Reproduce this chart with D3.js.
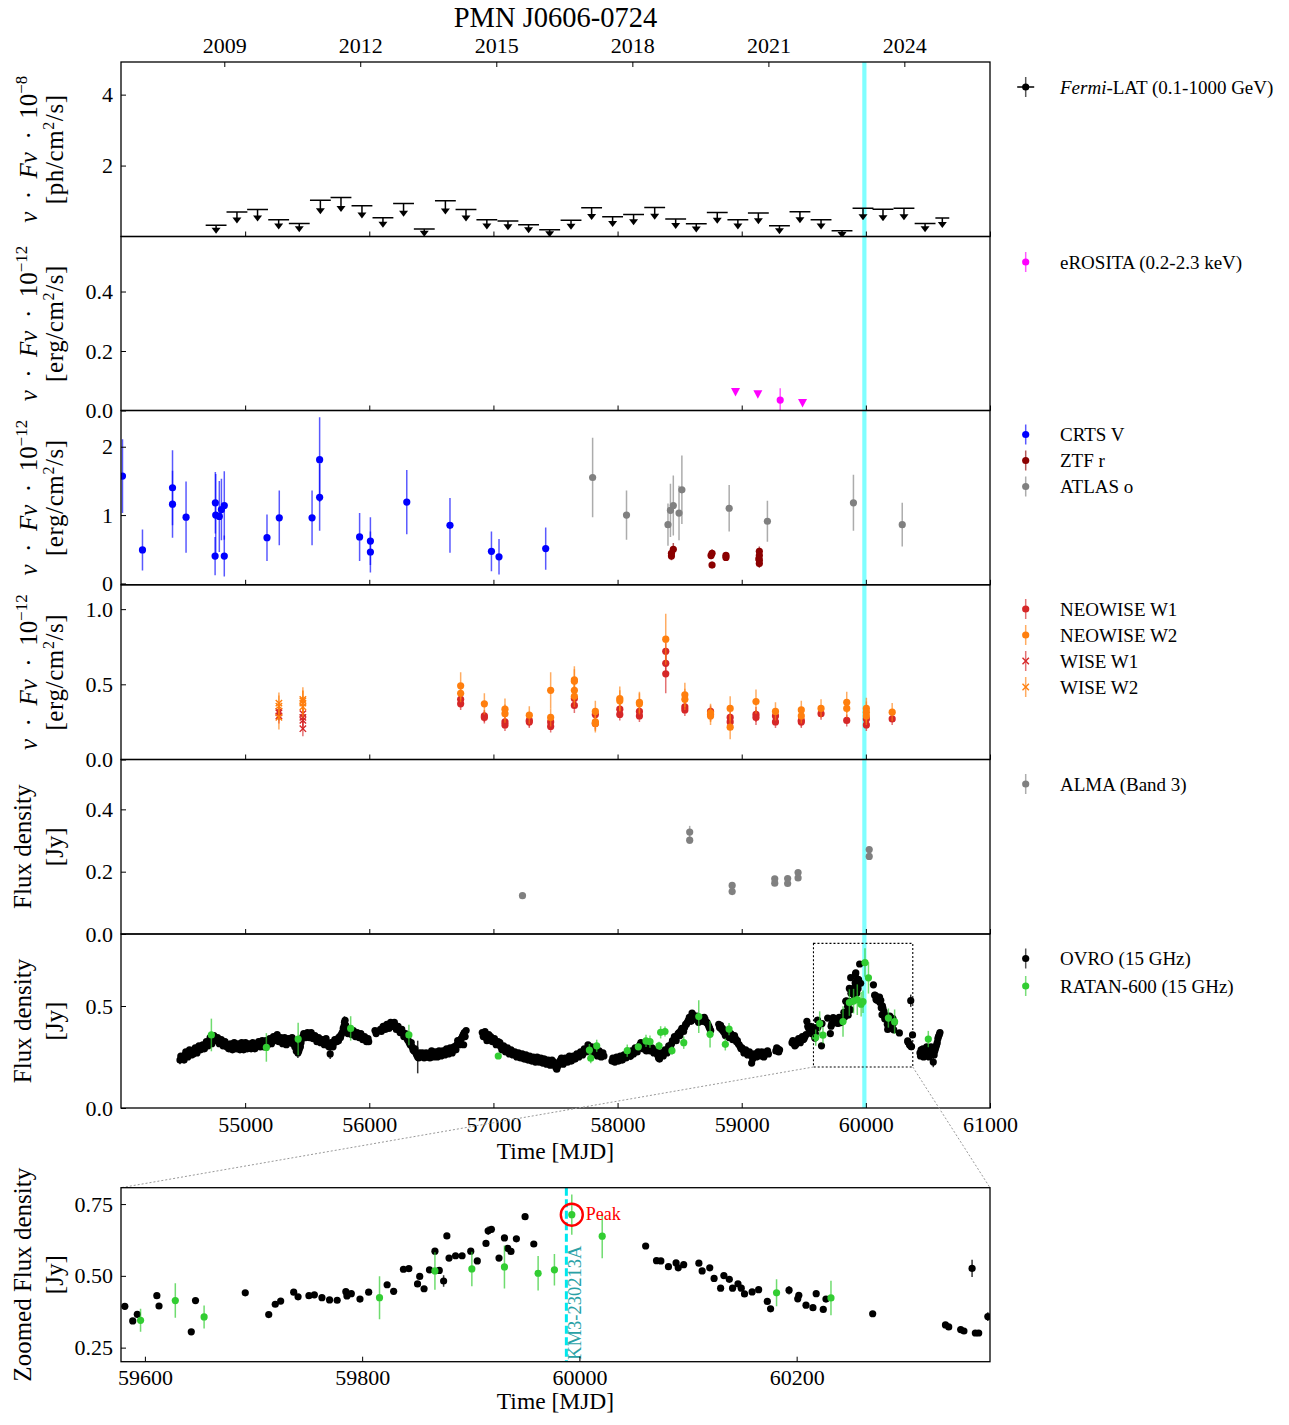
<!DOCTYPE html>
<html><head><meta charset="utf-8">
<script src="https://cdn.jsdelivr.net/npm/d3@7"></script>
<style>body{margin:0;background:#fff}</style>
</head><body>
<svg id="c" width="1289" height="1425" font-family="Liberation Serif, serif"></svg>
<script>
// ================= DATA =================
const title = "PMN J0606-0724";
const yearTicks = [2009, 2012, 2015, 2018, 2021, 2024];
const mjdTicks = [55000, 56000, 57000, 58000, 59000, 60000, 61000];
const zoomTicks = [59600, 59800, 60000, 60200];
const KM3_MJD = 59988;
const KM3_LABEL = "KM3-230213A";
const PEAK = [59993, 0.713];

// Fermi-LAT upper limits: [MJD, UL, half bin width (days)]
const fermiUL = [[54766,0.32,84],[54934,0.69,84],[55100,0.76,84],[55270,0.47,84],[55436,0.37,84],[55606,1.02,84],[55772,1.10,84],[55941,0.87,84],[56110,0.53,84],[56276,0.93,84],[56443,0.21,84],[56613,1.01,84],[56779,0.76,84],[56947,0.47,84],[57117,0.44,84],[57283,0.33,84],[57453,0.19,84],[57625,0.46,84],[57791,0.81,84],[57960,0.56,84],[58129,0.62,84],[58299,0.82,84],[58468,0.49,84],[58634,0.36,84],[58803,0.68,84],[58969,0.47,84],[59134,0.66,84],[59304,0.30,84],[59469,0.70,84],[59639,0.47,84],[59808,0.16,84],[59977,0.80,84],[60138,0.77,84],[60307,0.80,84],[60477,0.37,84],[60616,0.52,56]];

// eROSITA
const erositaUL = [[58950,0.062],[59130,0.055],[59490,0.025]];
const erositaDet = [[59310,0.035,[0.035,0.04]]];

// Optical [MJD, value, err]
const crtsV = [[54012,1.57,0.54],[54173,0.49,0.30],[54415,1.40,0.55],[54415,1.16,0.49],[54524,0.97,0.52],[54760,1.18,0.45],[54763,1.00,0.60],[54758,0.40,0.28],[54792,0.98,0.52],[54809,1.08,0.45],[54832,1.14,0.50],[54832,0.40,0.30],[55176,0.67,0.34],[55275,0.96,0.40],[55539,0.96,0.40],[55600,1.81,0.62],[55600,1.26,0.49],[55922,0.68,0.35],[56009,0.62,0.35],[56009,0.46,0.30],[56302,1.19,0.47],[56650,0.85,0.40],[56984,0.47,0.29],[57045,0.39,0.26],[57421,0.51,0.31]];
const ztfR = [[58434,0.40,0.06],[58434,0.44,0.06],[58449,0.50,0.09],[58753,0.41,0.06],[58761,0.44,0.06],[58761,0.27,0.05],[58873,0.38,0.05],[58873,0.41,0.05],[59142,0.47,0.07],[59142,0.41,0.06],[59142,0.34,0.06],[59142,0.29,0.06],[59138,0.36,0.06]];
const atlasO = [[57799,1.55,0.58],[58072,1.00,0.36],[58406,0.86,0.31],[58426,1.07,0.39],[58449,1.14,0.44],[58495,1.03,0.40],[58518,1.37,0.50],[58899,1.10,0.34],[59207,0.91,0.30],[59900,1.18,0.41],[60293,0.86,0.32]];

// Infrared
const neowiseW1 = [[56736,0.40,0.04],[56736,0.37,0.04],[56927,0.29,0.04],[56927,0.28,0.04],[57093,0.25,0.04],[57093,0.23,0.04],[57289,0.26,0.04],[57289,0.25,0.04],[57461,0.25,0.04],[57461,0.22,0.04],[57652,0.405,0.05],[57652,0.36,0.05],[57821,0.30,0.04],[57821,0.24,0.04],[58018,0.335,0.04],[58018,0.30,0.04],[58176,0.32,0.04],[58176,0.29,0.04],[58388,0.72,0.06],[58388,0.64,0.07],[58388,0.57,0.13],[58542,0.35,0.04],[58542,0.33,0.04],[58749,0.32,0.04],[58749,0.30,0.04],[58907,0.28,0.04],[58907,0.25,0.04],[59115,0.30,0.05],[59115,0.28,0.05],[59272,0.29,0.04],[59272,0.25,0.04],[59480,0.26,0.04],[59480,0.25,0.04],[59639,0.305,0.04],[59846,0.26,0.04],[60004,0.27,0.04],[60004,0.23,0.04],[60212,0.27,0.04]];
const neowiseW2 = [[56736,0.49,0.09],[56736,0.44,0.06],[56927,0.37,0.07],[57093,0.335,0.07],[57093,0.305,0.06],[57289,0.295,0.06],[57461,0.46,0.12],[57461,0.28,0.06],[57652,0.53,0.09],[57652,0.52,0.08],[57652,0.46,0.08],[57652,0.42,0.07],[57821,0.32,0.07],[57821,0.25,0.06],[57821,0.24,0.06],[58018,0.405,0.08],[58018,0.39,0.07],[58176,0.38,0.07],[58176,0.37,0.07],[58388,0.80,0.17],[58542,0.43,0.08],[58542,0.40,0.07],[58749,0.31,0.06],[58749,0.29,0.06],[58907,0.34,0.08],[58907,0.215,0.08],[59115,0.385,0.08],[59272,0.32,0.06],[59480,0.33,0.06],[59480,0.29,0.05],[59639,0.34,0.06],[59846,0.38,0.07],[59846,0.34,0.06],[60004,0.34,0.07],[60004,0.315,0.07],[60004,0.29,0.06],[60212,0.315,0.06]];
const wiseW1 = [[55272,0.32,0.05],[55272,0.31,0.05],[55272,0.29,0.05],[55465,0.305,0.06],[55465,0.28,0.06],[55465,0.26,0.06],[55465,0.205,0.05]];
const wiseW2 = [[55272,0.375,0.07],[55272,0.355,0.07],[55272,0.28,0.08],[55465,0.40,0.08],[55465,0.39,0.07],[55465,0.375,0.08],[55465,0.35,0.07]];

// ALMA Band 3 [MJD, Jy, err]
const alma = [[57234,0.123,0.006],[58581,0.327,0.02],[58581,0.301,0.012],[58923,0.156,0.008],[58923,0.136,0.008],[59266,0.177,0.008],[59266,0.163,0.008],[59370,0.178,0.008],[59370,0.162,0.008],[59454,0.197,0.008],[59454,0.180,0.008],[60027,0.271,0.01],[60027,0.249,0.01]];

// OVRO 15 GHz [MJD, Jy, (err)]
const OVRO_ERR = 0.008;
const ovro = [[54475,0.235,0.02],[54485,0.25],[54500,0.245],[54515,0.26,0.02],[54530,0.265],[54545,0.27],[54560,0.265],[54575,0.28],[54590,0.275],[54605,0.285],[54620,0.29],[54635,0.30],[54650,0.295],[54665,0.305],[54680,0.31],[54695,0.32],[54710,0.325],[54725,0.33],[54740,0.34],[54755,0.345],[54770,0.335],[54785,0.33],[54800,0.32],[54815,0.325],[54830,0.31],[54845,0.315],[54860,0.30],[54875,0.31],[54890,0.295],[54905,0.305],[54920,0.31],[54935,0.30],[54950,0.29],[54965,0.31],[54980,0.30],[54995,0.295],
[55010,0.31],[55025,0.30],[55040,0.305],[55055,0.295],[55070,0.31],[55085,0.30],[55100,0.315],[55115,0.305],[55130,0.32],[55145,0.31],[55160,0.315],[55175,0.32],[55190,0.33],[55205,0.325],[55220,0.335],[55235,0.345],[55250,0.35],[55265,0.34],[55280,0.33],[55295,0.34],[55310,0.325],[55325,0.335],[55340,0.32],[55355,0.33],[55370,0.335],[55385,0.315],[55400,0.30],[55412,0.28],[55425,0.27,0.025],[55437,0.29],[55450,0.32],
[55465,0.35],[55480,0.355],[55495,0.36],[55510,0.35],[55525,0.36],[55540,0.355],[55555,0.345],[55570,0.34],[55585,0.33],[55600,0.335],[55615,0.325],[55630,0.32],[55645,0.33],[55660,0.31],[55675,0.30],[55685,0.265,0.025],[55700,0.31],[55715,0.32],[55730,0.33],[55745,0.34],[55760,0.35],[55775,0.36],[55790,0.39],[55800,0.42,0.03],[55810,0.405],[55820,0.385],
[55835,0.37],[55850,0.375],[55865,0.365],[55880,0.37],[55895,0.36],[55910,0.355],[55925,0.36],[55940,0.35],[55955,0.345],[55970,0.34],[55985,0.33],[55995,0.325],[56046,0.38],
[56090,0.385],[56105,0.39],[56120,0.395],[56135,0.40],[56150,0.395],[56165,0.405],[56180,0.41],[56195,0.415],[56210,0.40],[56225,0.395],[56240,0.385],[56255,0.38],[56270,0.37],[56285,0.36],[56300,0.345],[56315,0.33],[56330,0.31],[56345,0.30],
[56360,0.28],[56375,0.27],[56390,0.25,0.08],[56405,0.27],[56420,0.26],[56435,0.255],[56450,0.265],[56465,0.25],[56480,0.26],[56495,0.27],[56510,0.265],[56525,0.255],[56540,0.27],[56555,0.26],[56570,0.275],[56585,0.265],[56600,0.27],[56615,0.28],[56630,0.27],[56645,0.285],[56660,0.28],[56675,0.29],[56690,0.30],[56705,0.31],[56720,0.32],[56735,0.335],[56750,0.35],[56760,0.31],[56765,0.37],[56780,0.38],
[56910,0.37],[56925,0.36],[56940,0.345],[56955,0.35],[56970,0.335],[56985,0.34],[57000,0.33],[57015,0.325],[57030,0.32],[57045,0.31],[57060,0.30],[57075,0.29],[57090,0.295],[57105,0.28],[57120,0.285],[57135,0.27],[57150,0.275],[57165,0.265],[57180,0.26],[57195,0.265],[57210,0.255],[57225,0.26],[57240,0.25],[57255,0.255],[57270,0.245],[57285,0.25],[57300,0.24],[57315,0.245],[57330,0.235],[57345,0.24],[57360,0.245],[57375,0.235],[57390,0.23],[57405,0.24],[57420,0.225],[57435,0.23],[57450,0.22],[57465,0.225],[57480,0.215],[57495,0.21],[57510,0.19],[57525,0.215],[57540,0.235],[57555,0.23],[57570,0.225],
[57590,0.235],[57605,0.24],[57620,0.245],[57635,0.24],[57650,0.25],[57665,0.255],[57680,0.26],[57695,0.265],[57710,0.27],[57725,0.275],[57740,0.285],[57755,0.29],[57770,0.30],[57785,0.29],[57800,0.28],[57815,0.27],[57830,0.265],[57845,0.275],[57860,0.265],[57875,0.26],[57890,0.255],
[57955,0.23],[57970,0.235],[57985,0.24],[58000,0.235],[58015,0.245],[58030,0.24],[58045,0.25],[58060,0.255],[58075,0.26],[58090,0.265],[58105,0.255,0.02],[58120,0.27],[58135,0.28],[58150,0.285],[58165,0.295],[58180,0.31],[58195,0.30],[58210,0.295],[58225,0.29],[58240,0.30],[58255,0.29],[58270,0.285],[58285,0.28],[58300,0.275],[58315,0.27],[58330,0.245],[58345,0.255],[58360,0.265],[58375,0.27],[58390,0.28],[58405,0.29],[58420,0.30],[58435,0.315],
[58450,0.33],[58465,0.34],[58480,0.355],[58495,0.37],[58510,0.38],[58525,0.39],[58540,0.395],[58555,0.41],[58570,0.43],[58585,0.44],[58600,0.465],[58615,0.45],[58630,0.44],[58645,0.43],[58660,0.425],[58675,0.43],[58690,0.44],[58705,0.435],[58720,0.42],[58735,0.40],[58750,0.38],
[58815,0.41],[58830,0.405],[58845,0.39],[58860,0.37],[58875,0.365],[58890,0.36],[58905,0.355],[58920,0.35],[58935,0.345],[58950,0.34],[58965,0.33],[58980,0.31],[58995,0.29],
[59010,0.285],[59025,0.28],[59040,0.27],[59055,0.265],[59070,0.26],[59080,0.22],[59095,0.25],[59110,0.26],[59125,0.265],[59140,0.27],[59155,0.26],[59170,0.265],[59185,0.27],[59200,0.275],[59215,0.265],[59275,0.28],[59290,0.29],[59305,0.285],
[59405,0.32],[59420,0.315],[59435,0.31],[59450,0.325],[59465,0.33],[59480,0.34],[59495,0.335],[59510,0.35],[59525,0.425],[59540,0.39],[59555,0.40],[59570,0.38],
[59581.5,0.394],[59588.8,0.343],[59593,0.366],[59611,0.431],[59613,0.395],[59642.7,0.305],[59646.6,0.414],[59692.4,0.441],[59714,0.365],[59720,0.401],[59725,0.412],[59737,0.443],[59741,0.427],[59751,0.431],[59756,0.434],[59763,0.424],[59770,0.416],[59777,0.415],[59785,0.445],[59786,0.43],[59790,0.438],[59798,0.419],[59806,0.443],[59823,0.469],[59829,0.446],[59838,0.523],[59843,0.525],[59851,0.472],[59853,0.498],[59857,0.455],[59862,0.521],[59867,0.586],[59871,0.519],[59875,0.482,0.02],[59878,0.639],[59880,0.562],[59886,0.57],[59892,0.57],[59900,0.586],[59906,0.552],[59914,0.613],[59916,0.657,0.015],[59919,0.662],[59926,0.562],[59931,0.632],[59934,0.596],[59937,0.585],[59942,0.629],[59950,0.706],[59958,0.611],
[60061,0.604],[60071,0.553],[60075,0.552],[60082,0.532],[60089,0.545],[60091,0.528],[60096,0.539],[60110,0.544],[60113,0.517],[60120,0.528],[60124,0.491],[60130,0.457],[60133,0.501],[60138,0.488],[60141,0.457],[60146,0.472],[60149,0.457],[60152,0.437],[60159,0.444],[60165,0.452],[60173,0.411],[60176,0.385],[60193,0.45,0.015],[60201,0.42],[60202,0.432],[60208.6,0.398],[60215,0.389],[60218,0.438],[60224.5,0.383],[60227,0.419],[60270,0.368],[60337,0.329],[60340,0.322],[60351,0.313],[60354,0.308],[60361.5,0.526,0.03],[60364.5,0.301],[60367.6,0.301],[60376,0.358,0.015],
[60436,0.27],[60445,0.285],[60455,0.265],[60465,0.25],[60475,0.28],[60485,0.29],[60495,0.27],[60505,0.26],[60515,0.28],[60525,0.30],[60535,0.27],[60543,0.225,0.025],[60555,0.28],[60565,0.30],[60575,0.32],[60585,0.35],[60597,0.37],
// intermediate OVRO epochs (band scatter)
[54482,0.255],[54508,0.235],[54522,0.275],[54538,0.25],[54552,0.285],[54568,0.26],[54582,0.265],[54598,0.295],[54612,0.27],[54628,0.305],[54642,0.285],[54658,0.31],[54672,0.29],[54688,0.325],[54702,0.305],[54718,0.345],[54732,0.315],[54748,0.355],[54762,0.33],[54778,0.345],[54792,0.315],[54808,0.335],[54822,0.305],[54838,0.325],[54852,0.30],[54868,0.29],[54882,0.315],[54898,0.285],[54912,0.32],[54928,0.29],[54942,0.315],[54958,0.285],[54972,0.32],[54988,0.285],
[55003,0.32],[55018,0.29],[55032,0.315],[55048,0.29],[55062,0.32],[55078,0.29],[55092,0.305],[55108,0.325],[55122,0.30],[55138,0.33],[55152,0.30],[55168,0.33],[55182,0.31],[55198,0.34],[55212,0.315],[55228,0.35],[55242,0.33],[55258,0.36],[55272,0.325],[55288,0.345],[55302,0.315],[55318,0.345],[55332,0.31],[55348,0.34],[55362,0.32],[55378,0.345],[55392,0.32],[55418,0.30],[55432,0.28],[55445,0.30],[55458,0.34],
[55472,0.365],[55488,0.345],[55502,0.37],[55518,0.345],[55532,0.37],[55548,0.34],[55562,0.355],[55578,0.325],[55592,0.345],[55608,0.32],[55622,0.335],[55638,0.31],[55652,0.34],[55668,0.315],[55692,0.32],[55708,0.30],[55722,0.335],[55738,0.325],[55752,0.33],[55768,0.345],[55782,0.37],[55796,0.40],[55805,0.43],[55815,0.39],[55828,0.365],[55842,0.385],[55858,0.36],[55872,0.38],[55888,0.35],[55902,0.37],[55918,0.345],[55932,0.365],[55948,0.335],[55962,0.35],[55978,0.325],[55990,0.34],
[56055,0.365],[56097,0.375],[56112,0.40],[56128,0.385],[56142,0.41],[56158,0.39],[56172,0.42],[56188,0.40],[56202,0.42],[56218,0.385],[56232,0.40],[56248,0.37],[56262,0.385],[56278,0.35],[56292,0.365],[56308,0.335],[56322,0.32],[56338,0.32],[56352,0.285],
[56368,0.29],[56382,0.26],[56398,0.245],[56412,0.255],[56428,0.27],[56442,0.245],[56458,0.27],[56472,0.265],[56488,0.245],[56502,0.28],[56518,0.25],[56532,0.275],[56548,0.25],[56562,0.28],[56578,0.255],[56592,0.28],[56608,0.26],[56622,0.29],[56638,0.265],[56652,0.295],[56668,0.27],[56682,0.30],[56698,0.285],[56712,0.33],[56728,0.31],[56742,0.34],[56757,0.36],[56772,0.35],
[56918,0.35],[56932,0.375],[56948,0.33],[56962,0.36],[56978,0.35],[56992,0.325],[57008,0.34],[57022,0.31],[57038,0.325],[57052,0.32],[57068,0.285],[57082,0.305],[57098,0.275],[57112,0.295],[57128,0.265],[57142,0.285],[57158,0.26],[57172,0.275],[57188,0.25],[57202,0.27],[57218,0.245],[57232,0.265],[57248,0.24],[57262,0.26],[57278,0.235],[57292,0.255],[57308,0.23],[57322,0.25],[57338,0.225],[57352,0.25],[57368,0.225],[57382,0.245],[57398,0.22],[57412,0.24],[57428,0.215],[57442,0.235],[57458,0.21],[57472,0.235],[57488,0.225],[57502,0.20],[57518,0.205],[57532,0.225],[57548,0.245],[57562,0.215],[57578,0.245],
[57598,0.225],[57612,0.255],[57628,0.23],[57642,0.255],[57658,0.24],[57672,0.265],[57688,0.25],[57702,0.275],[57718,0.26],[57732,0.29],[57748,0.275],[57762,0.31],[57778,0.28],[57792,0.30],[57808,0.265],[57822,0.28],[57838,0.255],[57852,0.28],[57868,0.25],[57882,0.27],
[57962,0.245],[57978,0.225],[57992,0.25],[58008,0.23],[58022,0.255],[58038,0.235],[58052,0.26],[58068,0.245],[58082,0.27],[58098,0.255],[58112,0.28],[58128,0.265],[58142,0.295],[58158,0.275],[58172,0.30],[58188,0.32],[58202,0.29],[58218,0.305],[58232,0.28],[58248,0.31],[58262,0.28],[58278,0.295],[58292,0.27],[58308,0.285],[58322,0.26],[58338,0.24],[58352,0.27],[58368,0.255],[58382,0.285],[58398,0.27],[58412,0.305],[58428,0.29],[58442,0.33],
[58458,0.35],[58472,0.33],[58488,0.365],[58502,0.355],[58518,0.39],[58532,0.375],[58548,0.41],[58562,0.42],[58578,0.445],[58592,0.425],[58608,0.455],[58622,0.435],[58638,0.45],[58652,0.42],[58668,0.44],[58682,0.425],[58698,0.445],[58712,0.42],[58728,0.41],[58742,0.39],
[58822,0.395],[58838,0.385],[58852,0.375],[58868,0.355],[58882,0.37],[58898,0.345],[58912,0.365],[58928,0.335],[58942,0.355],[58958,0.325],[58972,0.315],[58988,0.30],
[59002,0.295],[59018,0.27],[59032,0.285],[59048,0.26],[59062,0.275],[59088,0.24],[59102,0.265],[59118,0.25],[59132,0.275],[59148,0.255],[59162,0.275],[59178,0.25],[59192,0.265],[59208,0.28],[59282,0.295],[59298,0.275],
[59412,0.33],[59428,0.305],[59442,0.32],[59458,0.34],[59472,0.32],[59488,0.35],[59502,0.34],[59518,0.36],[59532,0.40],[59548,0.385],[59562,0.365],
[60440,0.255],[60450,0.26],[60460,0.29],[60470,0.27],[60480,0.255],[60490,0.30],[60500,0.28],[60510,0.25],[60520,0.27],[60530,0.29],[60550,0.26],[60560,0.29],[60570,0.31],[60580,0.34],[60592,0.36]];

// RATAN-600 15 GHz
const ratan = [[54728,0.358,0.08],[55171,0.297,0.07],[55427,0.338,0.08],[55850,0.39,0.06],[56319,0.358,0.05],[57039,0.255,0.015],[57773,0.284,0.03],[57784,0.244,0.025],[57832,0.305,0.03],[58078,0.281,0.03],[58167,0.30,0.015],[58229,0.329,0.03],[58261,0.325,0.03],[58334,0.305,0.02],[58347,0.371,0.03],[58382,0.375,0.025],[58438,0.281,0.02],[58533,0.32,0.03],[58654,0.448,0.08],[58745,0.361,0.065],[58868,0.312,0.03],[58898,0.387,0.03],[59596,0.345,0.04],[59628,0.414,0.06],[59654.5,0.357,0.04],[59816,0.424,0.075],[59867,0.517,0.065],[59901,0.524,0.06],[59931,0.531,0.075],[59962,0.509,0.06],[59977,0.521,0.055],[59993,0.713,0.07],[60021,0.638,0.077],[60181.5,0.441,0.047],[60231.6,0.423,0.06],[60503,0.338,0.04]];

// ================= LAYOUT =================
const svg = d3.select('#c');
const X0 = 121, X1 = 990;
const edges = [62, 236.5, 410.5, 584.8, 759.5, 934, 1108];
const ZT = 1187.7, ZB = 1361.7;
const FONT_TICK = 22, FONT_LAB = 25, FONT_LEG = 19;
const C = {crts:'#0000ff', ztf:'#8b0000', atlas:'#808080', w1:'#d62728', w2:'#ff7f0e', ero:'#ff00ff', alma:'#808080', ovro:'#000000', ratan:'#32cd32'};

const x = d3.scaleLinear().domain([54000, 61000]).range([X0, X1]);
const mjdToDate = m => new Date(Date.UTC(1858, 10, 17) + m * 864e5);
const xt = d3.scaleUtc().domain([mjdToDate(54000), mjdToDate(61000)]).range([X0, X1]);

const panels = [
  {domain:[0,4.92], ticks:[2,4], fmt:d3.format('d'), lab:'math', exp:'8', unit:'ph'},
  {domain:[0,0.585], ticks:[0,0.2,0.4], fmt:d3.format('.1f'), lab:'math', exp:'12', unit:'erg'},
  {domain:[-0.02,2.53], ticks:[0,1,2], fmt:d3.format('d'), lab:'math', exp:'12', unit:'erg'},
  {domain:[0,1.162], ticks:[0,0.5,1.0], fmt:d3.format('.1f'), lab:'math', exp:'12', unit:'erg'},
  {domain:[0,0.56], ticks:[0,0.2,0.4], fmt:d3.format('.1f'), lab:'flux'},
  {domain:[0,0.853], ticks:[0,0.5], fmt:d3.format('.1f'), lab:'flux'},
];
panels.forEach((p,i)=>{ p.top = edges[i]; p.bot = edges[i+1]; p.y = d3.scaleLinear().domain(p.domain).range([p.bot, p.top]); });

const defs = svg.append('defs');
function clip(id, x0, y0, w, h){ defs.append('clipPath').attr('id',id).append('rect').attr('x',x0).attr('y',y0).attr('width',w).attr('height',h); return `url(#${id})`; }

const eLo = (d,def)=> Array.isArray(d[2]) ? d[2][0] : (d[2] ?? def ?? 0);
const eHi = (d,def)=> Array.isArray(d[2]) ? d[2][1] : (d[2] ?? def ?? 0);

function drawSeries(g, xs, ys, data, o){
  const def = o.defErr || 0;
  g.append('g').selectAll('line').data(data).join('line')
    .attr('x1',d=>xs(d[0])).attr('x2',d=>xs(d[0]))
    .attr('y1',d=>ys(d[1]-eLo(d,def))).attr('y2',d=>ys(d[1]+eHi(d,def)))
    .attr('stroke',o.color).attr('stroke-width',o.ew||1.5).attr('stroke-opacity',o.ea ?? 0.65);
  if (o.shape==='x'){
    const s=3.2;
    g.append('g').selectAll('path').data(data).join('path')
      .attr('d',d=>{const cx=xs(d[0]), cy=ys(d[1]); return `M${cx-s},${cy-s}L${cx+s},${cy+s}M${cx-s},${cy+s}L${cx+s},${cy-s}`;})
      .attr('stroke',o.color).attr('stroke-width',1.4).attr('fill','none');
  } else if (o.shape==='v'){
    g.append('g').selectAll('path').data(data).join('path')
      .attr('d',d=>{const cx=xs(d[0]), cy=ys(d[1]); return `M${cx-4.5},${cy-4}L${cx+4.5},${cy-4}L${cx},${cy+4.5}Z`;})
      .attr('fill',o.color);
  } else {
    g.append('g').selectAll('circle').data(data).join('circle')
      .attr('cx',d=>xs(d[0])).attr('cy',d=>ys(d[1])).attr('r',o.r||3.6).attr('fill',o.color);
  }
}

function drawUL(g, xs, ys, data){
  const base = ys(0);
  data.forEach(d=>{
    const cx = xs(d[0]), cy = ys(d[1]);
    const len = 6 + 0.22*(base-cy);
    g.append('line').attr('x1',xs(d[0]-d[2])).attr('x2',xs(d[0]+d[2])).attr('y1',cy).attr('y2',cy).attr('stroke','#000').attr('stroke-width',1.5);
    g.append('line').attr('x1',cx).attr('x2',cx).attr('y1',cy).attr('y2',cy+len-5).attr('stroke','#000').attr('stroke-width',1.5);
    g.append('path').attr('d',`M${cx-4.5},${cy+len-6}L${cx+4.5},${cy+len-6}L${cx},${cy+len}Z`).attr('fill','#000');
  });
}

function styleAxis(g, size){
  g.select('.domain').remove();
  g.selectAll('.tick line').attr('stroke','#000').attr('stroke-width',1);
  g.selectAll('.tick text').attr('fill','#000').attr('font-size',size).attr('font-family','Liberation Serif, serif');
}

function yLabel(p, cx, cy){
  const l1x = p.lab==='math' ? 37 : 31, l2x = 63;
  if (p.lab==='math'){
    const t = svg.append('text').attr('transform',`translate(${l1x},${cy}) rotate(-90)`).attr('text-anchor','middle').attr('font-size',FONT_LAB);
    t.append('tspan').attr('font-style','italic').text('ν');
    t.append('tspan').text('\u2002·\u2002');
    t.append('tspan').attr('font-style','italic').text('Fν');
    t.append('tspan').text('\u2002·\u200210');
    t.append('tspan').attr('font-size',17).attr('dy',-10).text('−'+p.exp);
    const t2 = svg.append('text').attr('transform',`translate(${l2x},${cy}) rotate(-90)`).attr('text-anchor','middle').attr('font-size',FONT_LAB).attr('letter-spacing',0.6);
    t2.append('tspan').text('['+p.unit+'/cm');
    t2.append('tspan').attr('font-size',16).attr('dy',-9).text('2');
    t2.append('tspan').attr('dy',9).text('/s]');
  } else {
    svg.append('text').attr('transform',`translate(${l1x},${cy}) rotate(-90)`).attr('text-anchor','middle').attr('font-size',FONT_LAB).text(p.text || 'Flux density');
    svg.append('text').attr('transform',`translate(${l2x},${cy}) rotate(-90)`).attr('text-anchor','middle').attr('font-size',FONT_LAB).text('[Jy]');
  }
}

// ===== KM3 event band (behind data) =====
svg.append('line').attr('x1',x(KM3_MJD)).attr('x2',x(KM3_MJD)).attr('y1',edges[0]).attr('y2',edges[6])
  .attr('stroke','#00ffff').attr('stroke-opacity',0.5).attr('stroke-width',4.2);

// ===== Panels =====
panels.forEach((p,i)=>{
  const g = svg.append('g').attr('clip-path', clip('cp'+i, X0, p.top, X1-X0, p.bot-p.top));
  const y = p.y;
  if (i===0) drawUL(g, x, y, fermiUL);
  if (i===1){ drawSeries(g, x, y, erositaUL, {color:C.ero, shape:'v', ea:0}); drawSeries(g, x, y, erositaDet, {color:C.ero}); }
  if (i===2){ drawSeries(g, x, y, crtsV, {color:C.crts}); drawSeries(g, x, y, ztfR, {color:C.ztf}); drawSeries(g, x, y, atlasO, {color:C.atlas}); }
  if (i===3){ drawSeries(g, x, y, neowiseW1, {color:C.w1}); drawSeries(g, x, y, neowiseW2, {color:C.w2}); drawSeries(g, x, y, wiseW1, {color:C.w1, shape:'x'}); drawSeries(g, x, y, wiseW2, {color:C.w2, shape:'x'}); }
  if (i===4) drawSeries(g, x, y, alma, {color:C.alma});
  if (i===5){ drawSeries(g, x, y, ovro, {color:C.ovro, defErr:OVRO_ERR, ea:0.8}); drawSeries(g, x, y, ratan, {color:C.ratan, ea:0.7}); }

  svg.append('rect').attr('x',X0).attr('y',p.top).attr('width',X1-X0).attr('height',p.bot-p.top)
    .attr('fill','none').attr('stroke','#000').attr('stroke-width',1.3);
  const ya = svg.append('g').attr('transform',`translate(${X0},0)`)
    .call(d3.axisLeft(y).tickValues(p.ticks).tickFormat(p.fmt).tickSize(-5).tickPadding(8));
  styleAxis(ya, FONT_TICK);
  const xa = svg.append('g').attr('transform',`translate(0,${p.bot})`)
    .call(d3.axisBottom(x).tickValues(mjdTicks).tickSize(-5).tickPadding(8).tickFormat(i===5 ? d3.format('d') : ''));
  styleAxis(xa, FONT_TICK);
  yLabel(p, 0, (p.top+p.bot)/2);
});

const ta = svg.append('g').attr('transform',`translate(0,${edges[0]})`)
  .call(d3.axisTop(xt).tickValues(yearTicks.map(yr=>new Date(Date.UTC(yr,0,1)))).tickFormat(d3.utcFormat('%Y')).tickSize(-5).tickPadding(9));
styleAxis(ta, FONT_TICK);

svg.append('text').attr('x',(X0+X1)/2).attr('y',27).attr('text-anchor','middle').attr('font-size',28.5).text(title);
svg.append('text').attr('x',(X0+X1)/2).attr('y',1159).attr('text-anchor','middle').attr('font-size',23.5).text('Time [MJD]');

// ===== Zoom box & connectors =====
const zx = d3.scaleLinear().domain([59578, 60378]).range([X0, X1]);
const zy = d3.scaleLinear().domain([0.201, 0.807]).range([ZB, ZT]);
const py6 = panels[5].y;
const bx0 = x(zx.domain()[0]), bx1 = x(zx.domain()[1]), by0 = py6(zy.domain()[1]), by1 = py6(zy.domain()[0]);
svg.append('rect').attr('x',bx0).attr('y',by0).attr('width',bx1-bx0).attr('height',by1-by0)
  .attr('fill','none').attr('stroke','#000').attr('stroke-width',1.1).attr('stroke-dasharray','2,2');
svg.append('line').attr('x1',bx0).attr('y1',by1).attr('x2',X0).attr('y2',ZT).attr('stroke','#999').attr('stroke-width',1).attr('stroke-dasharray','2,2');
svg.append('line').attr('x1',bx1).attr('y1',by1).attr('x2',X1).attr('y2',ZT).attr('stroke','#999').attr('stroke-width',1).attr('stroke-dasharray','2,2');

// ===== Zoomed panel =====
const zg = svg.append('g').attr('clip-path', clip('cpz', X0, ZT, X1-X0, ZB-ZT));
zg.append('line').attr('x1',zx(KM3_MJD)).attr('x2',zx(KM3_MJD)).attr('y1',ZT).attr('y2',ZB)
  .attr('stroke','#00e8ee').attr('stroke-width',3).attr('stroke-dasharray','8,3.5');
drawSeries(zg, zx, zy, ovro, {color:C.ovro, defErr:OVRO_ERR, ea:0.8});
drawSeries(zg, zx, zy, ratan, {color:C.ratan, ea:0.7});
zg.append('circle').attr('cx',zx(PEAK[0])).attr('cy',zy(PEAK[1])).attr('r',11).attr('fill','none').attr('stroke','#ff0000').attr('stroke-width',2.4);
svg.append('text').attr('x',zx(PEAK[0])+14).attr('y',zy(PEAK[1])+5.5).attr('font-size',18).attr('fill','#ff0000').text('Peak');
svg.append('text').attr('transform',`translate(${zx(KM3_MJD)+15},${ZB-2}) rotate(-90)`).attr('font-size',18.5).attr('fill','#2aa1a6').text(KM3_LABEL);
svg.append('rect').attr('x',X0).attr('y',ZT).attr('width',X1-X0).attr('height',ZB-ZT).attr('fill','none').attr('stroke','#000').attr('stroke-width',1.3);
const zya = svg.append('g').attr('transform',`translate(${X0},0)`)
  .call(d3.axisLeft(zy).tickValues([0.25,0.5,0.75]).tickFormat(d3.format('.2f')).tickSize(-5).tickPadding(8));
styleAxis(zya, FONT_TICK);
const zxa = svg.append('g').attr('transform',`translate(0,${ZB})`)
  .call(d3.axisBottom(zx).tickValues(zoomTicks).tickFormat(d3.format('d')).tickSize(-5).tickPadding(8));
styleAxis(zxa, FONT_TICK);
yLabel({lab:'flux', text:'Zoomed Flux density'}, 0, (ZT+ZB)/2);
svg.append('text').attr('x',(X0+X1)/2).attr('y',1409).attr('text-anchor','middle').attr('font-size',23.5).text('Time [MJD]');

// ===== Legends =====
const LX = 1025.7, TX = 1060;
function legMarker(yy, color, shape, hbar){
  svg.append('line').attr('x1',LX).attr('x2',LX).attr('y1',yy-10).attr('y2',yy+10).attr('stroke',color).attr('stroke-width',1.5).attr('stroke-opacity',0.65);
  if (hbar) svg.append('line').attr('x1',LX-8.5).attr('x2',LX+8.5).attr('y1',yy).attr('y2',yy).attr('stroke',color).attr('stroke-width',1.5);
  if (shape==='x') svg.append('path').attr('d',`M${LX-3.2},${yy-3.2}L${LX+3.2},${yy+3.2}M${LX-3.2},${yy+3.2}L${LX+3.2},${yy-3.2}`).attr('stroke',color).attr('stroke-width',1.4);
  else svg.append('circle').attr('cx',LX).attr('cy',yy).attr('r',3.6).attr('fill',color);
}
function legText(yy, txt){ return svg.append('text').attr('x',TX).attr('y',yy).attr('dy','0.35em').attr('font-size',FONT_LEG).text(txt); }

legMarker(87, '#000', 'o', true);
const ft = svg.append('text').attr('x',TX).attr('y',87).attr('dy','0.35em').attr('font-size',FONT_LEG);
ft.append('tspan').attr('font-style','italic').text('Fermi');
ft.append('tspan').text('-LAT (0.1-1000 GeV)');

const legends = [
  [262, C.ero, 'o', 'eROSITA (0.2-2.3 keV)'],
  [434.5, C.crts, 'o', 'CRTS V'],
  [460.5, C.ztf, 'o', 'ZTF r'],
  [486.5, C.atlas, 'o', 'ATLAS o'],
  [609, C.w1, 'o', 'NEOWISE W1'],
  [635, C.w2, 'o', 'NEOWISE W2'],
  [661, C.w1, 'x', 'WISE W1'],
  [687, C.w2, 'x', 'WISE W2'],
  [784, C.alma, 'o', 'ALMA (Band 3)'],
  [958.5, C.ovro, 'o', 'OVRO (15 GHz)'],
  [986, C.ratan, 'o', 'RATAN-600 (15 GHz)'],
];
legends.forEach(([yy,c,s,t])=>{ legMarker(yy,c,s,false); legText(yy,t); });
</script>
</body></html>
